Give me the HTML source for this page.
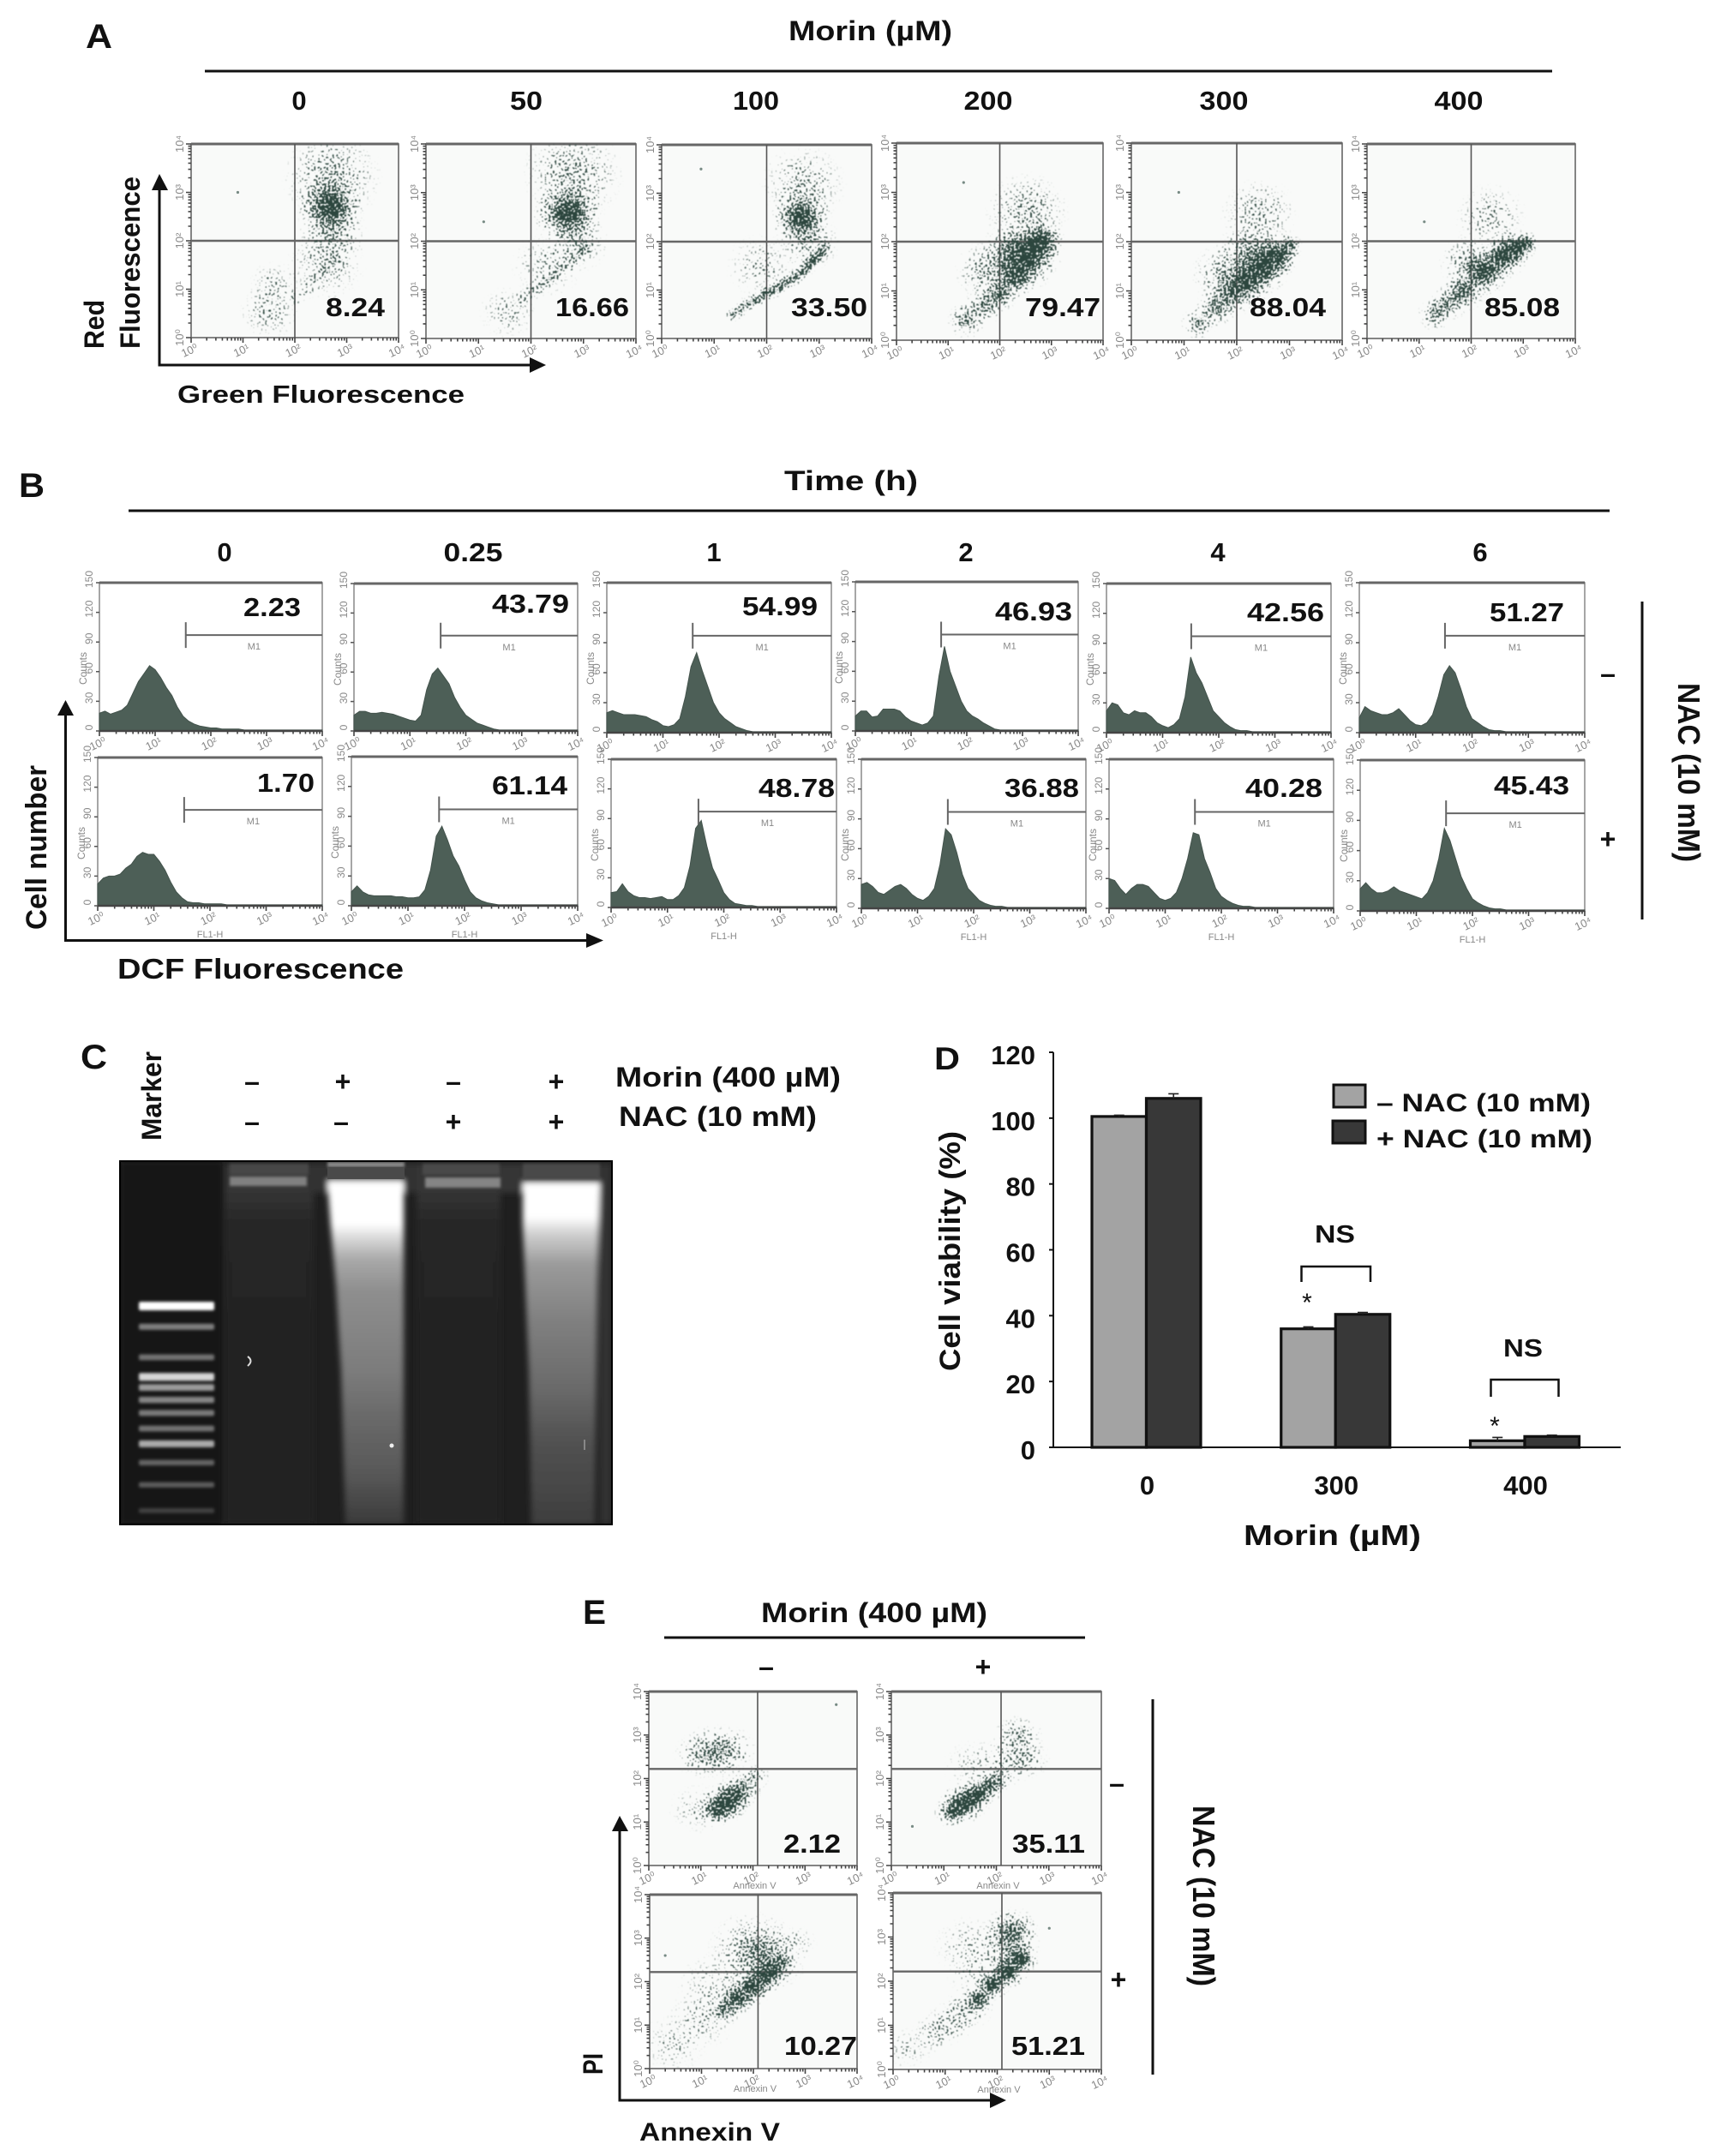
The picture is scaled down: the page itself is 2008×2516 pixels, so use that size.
<!DOCTYPE html>
<html lang="en">
<head>
<meta charset="utf-8">
<title>Morin induced apoptosis figure</title>
<style>
html,body{margin:0;padding:0;background:#fff}
svg{display:block}
text{font-family:"Liberation Sans",sans-serif;fill:#111}
.b{font-weight:bold}
.h{font-weight:bold;font-size:32px}
.v{font-weight:bold;font-size:31px}
.l{font-weight:bold;font-size:40px}
.t{fill:#888;font-size:13px}
</style>
</head>
<body>
<svg id="figure" xmlns="http://www.w3.org/2000/svg" width="2008" height="2516" viewBox="0 0 2008 2516">
<defs>
<filter id="speckle" filterUnits="userSpaceOnUse" x="0" y="0" width="2008" height="2516" color-interpolation-filters="sRGB">
<feTurbulence type="fractalNoise" baseFrequency="0.42" numOctaves="1" seed="4" result="noise"/>
<feColorMatrix in="noise" type="matrix" values="0 0 0 0 0 0 0 0 0 0 0 0 0 0 0 2.6 0 0 0 -0.8" result="noiseAlpha"/>
<feComposite in="SourceAlpha" in2="noiseAlpha" operator="arithmetic" k1="0" k2="6" k3="6" k4="-6" result="mask"/>
<feFlood flood-color="#2c463e" result="ink"/>
<feComposite in="ink" in2="mask" operator="in" result="dots"/>
<feGaussianBlur in="dots" stdDeviation="0.5"/>
</filter>
<radialGradient id="kernel">
<stop offset="0" stop-color="#000" stop-opacity="1"/>
<stop offset="0.25" stop-color="#000" stop-opacity="0.8"/>
<stop offset="0.55" stop-color="#000" stop-opacity="0.38"/>
<stop offset="0.8" stop-color="#000" stop-opacity="0.11"/>
<stop offset="1" stop-color="#000" stop-opacity="0"/>
</radialGradient>
<filter id="gelBlur" x="-10%" y="-10%" width="120%" height="120%"><feGaussianBlur stdDeviation="3.5"/></filter>
<filter id="bandBlur" x="-10%" y="-100%" width="120%" height="300%"><feGaussianBlur stdDeviation="1.5"/></filter>
<clipPath id="gelClip"><rect x="140" y="1355" width="574" height="424"/></clipPath>
<linearGradient id="lane3" gradientUnits="userSpaceOnUse" x1="0" y1="1378" x2="0" y2="1779">
<stop offset="0" stop-color="#fff"/><stop offset="0.125" stop-color="#fff"/><stop offset="0.17" stop-color="#d5d5d5"/><stop offset="0.23" stop-color="#a8a8a8"/><stop offset="0.32" stop-color="#8e8e8e"/><stop offset="0.55" stop-color="#7c7c7c"/><stop offset="0.68" stop-color="#6a6a6a"/><stop offset="0.85" stop-color="#585858"/><stop offset="1" stop-color="#3a3a3a"/>
</linearGradient>
<linearGradient id="lane5" gradientUnits="userSpaceOnUse" x1="0" y1="1380" x2="0" y2="1779">
<stop offset="0" stop-color="#fff"/><stop offset="0.1" stop-color="#fff"/><stop offset="0.15" stop-color="#cfcfcf"/><stop offset="0.24" stop-color="#9a9a9a"/><stop offset="0.4" stop-color="#808080"/><stop offset="0.6" stop-color="#6a6a6a"/><stop offset="0.75" stop-color="#525252"/><stop offset="1" stop-color="#3e3e3e"/>
</linearGradient>
<linearGradient id="gelDarkLane" gradientUnits="userSpaceOnUse" x1="0" y1="1385" x2="0" y2="1779">
<stop offset="0" stop-color="#363636"/><stop offset="0.12" stop-color="#252525"/><stop offset="1" stop-color="#222"/>
</linearGradient>
</defs>

<!-- PANEL A -->
<g>
<text class="l" x="100" y="56" textLength="31" lengthAdjust="spacingAndGlyphs">A</text>
<text class="h" x="920" y="47" textLength="191" lengthAdjust="spacingAndGlyphs">Morin (µM)</text>
<line x1="239" y1="83" x2="1811" y2="83" stroke="#111" stroke-width="3"/>
<text class="v" x="349" y="128" text-anchor="middle">0</text>
<text class="v" x="614" y="128" text-anchor="middle" textLength="38" lengthAdjust="spacingAndGlyphs">50</text>
<text class="v" x="882" y="128" text-anchor="middle" textLength="54" lengthAdjust="spacingAndGlyphs">100</text>
<text class="v" x="1153" y="128" text-anchor="middle" textLength="57" lengthAdjust="spacingAndGlyphs">200</text>
<text class="v" x="1428" y="128" text-anchor="middle" textLength="57" lengthAdjust="spacingAndGlyphs">300</text>
<text class="v" x="1702" y="128" text-anchor="middle" textLength="57" lengthAdjust="spacingAndGlyphs">400</text>
<g id="panelAPlots"></g>
<text class="v" x="380" y="369" textLength="69" lengthAdjust="spacingAndGlyphs">8.24</text>
<text class="v" x="648" y="369" textLength="86" lengthAdjust="spacingAndGlyphs">16.66</text>
<text class="v" x="923" y="369" textLength="89" lengthAdjust="spacingAndGlyphs">33.50</text>
<text class="v" x="1196" y="369" textLength="88" lengthAdjust="spacingAndGlyphs">79.47</text>
<text class="v" x="1458" y="369" textLength="89" lengthAdjust="spacingAndGlyphs">88.04</text>
<text class="v" x="1732" y="369" textLength="88" lengthAdjust="spacingAndGlyphs">85.08</text>
<path d="M186 220V426H620" fill="none" stroke="#111" stroke-width="3"/>
<path d="M186 203L177 222H196Z" fill="#111"/>
<path d="M637 426L618 417V435Z" fill="#111"/>
<text class="h" transform="translate(121,407) rotate(-90)" textLength="57" lengthAdjust="spacingAndGlyphs">Red</text>
<text class="h" transform="translate(163,407) rotate(-90)" textLength="201" lengthAdjust="spacingAndGlyphs">Fluorescence</text>
<text class="h" x="207" y="470" style="font-size:29px" textLength="335" lengthAdjust="spacingAndGlyphs">Green Fluorescence</text>
</g>

<!-- PANEL B -->
<g>
<text class="l" x="22" y="580" textLength="30" lengthAdjust="spacingAndGlyphs">B</text>
<text class="h" x="915" y="572" textLength="156" lengthAdjust="spacingAndGlyphs">Time (h)</text>
<line x1="150" y1="596" x2="1878" y2="596" stroke="#111" stroke-width="3"/>
<text class="v" x="262" y="655" text-anchor="middle">0</text>
<text class="v" x="552" y="655" text-anchor="middle" textLength="69" lengthAdjust="spacingAndGlyphs">0.25</text>
<text class="v" x="833" y="655" text-anchor="middle">1</text>
<text class="v" x="1127" y="655" text-anchor="middle">2</text>
<text class="v" x="1421" y="655" text-anchor="middle">4</text>
<text class="v" x="1727" y="655" text-anchor="middle">6</text>
<g id="panelBPlots"></g>
<text class="v" x="284" y="719" textLength="67" lengthAdjust="spacingAndGlyphs">2.23</text>
<text class="v" x="574" y="715" textLength="90" lengthAdjust="spacingAndGlyphs">43.79</text>
<text class="v" x="866" y="718" textLength="88" lengthAdjust="spacingAndGlyphs">54.99</text>
<text class="v" x="1161" y="724" textLength="90" lengthAdjust="spacingAndGlyphs">46.93</text>
<text class="v" x="1455" y="725" textLength="90" lengthAdjust="spacingAndGlyphs">42.56</text>
<text class="v" x="1738" y="725" textLength="87" lengthAdjust="spacingAndGlyphs">51.27</text>
<text class="v" x="300" y="924" textLength="67" lengthAdjust="spacingAndGlyphs">1.70</text>
<text class="v" x="574" y="927" textLength="88" lengthAdjust="spacingAndGlyphs">61.14</text>
<text class="v" x="885" y="930" textLength="89" lengthAdjust="spacingAndGlyphs">48.78</text>
<text class="v" x="1172" y="930" textLength="87" lengthAdjust="spacingAndGlyphs">36.88</text>
<text class="v" x="1453" y="930" textLength="90" lengthAdjust="spacingAndGlyphs">40.28</text>
<text class="v" x="1743" y="927" textLength="88" lengthAdjust="spacingAndGlyphs">45.43</text>
<path d="M76.500 833V1097.500H684" fill="none" stroke="#111" stroke-width="3"/>
<path d="M76.500 817L67 835H86Z" fill="#111"/>
<path d="M704 1097.500L684 1089V1106Z" fill="#111"/>
<text class="h" transform="translate(54,1085) rotate(-90)" style="font-size:34px" textLength="192" lengthAdjust="spacingAndGlyphs">Cell number</text>
<text class="h" x="137" y="1142" style="font-size:33px" textLength="334" lengthAdjust="spacingAndGlyphs">DCF Fluorescence</text>
<line x1="1916" y1="702" x2="1916" y2="1073" stroke="#111" stroke-width="3"/>
<text class="h" x="1876" y="797" text-anchor="middle">–</text>
<text class="h" x="1876" y="990" text-anchor="middle">+</text>
<text class="h" transform="translate(1958,797) rotate(90)" style="font-size:36px" textLength="209" lengthAdjust="spacingAndGlyphs">NAC (10 mM)</text>
</g>

<!-- PANEL C -->
<g>
<text class="l" x="94" y="1247" textLength="31" lengthAdjust="spacingAndGlyphs">C</text>
<text class="h" transform="translate(188,1331) rotate(-90)" textLength="104" lengthAdjust="spacingAndGlyphs">Marker</text>
<text class="h" x="294" y="1273" text-anchor="middle">–</text>
<text class="h" x="400" y="1273" text-anchor="middle">+</text>
<text class="h" x="529" y="1273" text-anchor="middle">–</text>
<text class="h" x="649" y="1273" text-anchor="middle">+</text>
<text class="h" x="294" y="1320" text-anchor="middle">–</text>
<text class="h" x="398" y="1320" text-anchor="middle">–</text>
<text class="h" x="529" y="1320" text-anchor="middle">+</text>
<text class="h" x="649" y="1320" text-anchor="middle">+</text>
<text class="h" x="718" y="1268" textLength="263" lengthAdjust="spacingAndGlyphs">Morin (400 µM)</text>
<text class="h" x="722" y="1314" textLength="231" lengthAdjust="spacingAndGlyphs">NAC (10 mM)</text>
<g clip-path="url(#gelClip)">
<rect x="140" y="1355" width="574" height="424" fill="#1f1f1f"/>
<rect x="140" y="1355" width="120" height="424" fill="#161616" filter="url(#gelBlur)"/>
<g filter="url(#gelBlur)">
<rect x="262" y="1358" width="104" height="420" fill="url(#gelDarkLane)"/>
<rect x="486" y="1358" width="98" height="420" fill="url(#gelDarkLane)"/>
<rect x="360" y="1358" width="126" height="34" fill="#303030"/>
<rect x="584" y="1358" width="130" height="34" fill="#343434"/>
<rect x="700" y="1358" width="14" height="420" fill="#303030"/>
<polygon points="382,1378 471,1378 471,1779 403,1779 398,1600 392,1500 386,1430" fill="url(#lane3)"/>
<polygon points="610,1380 700,1380 697,1500 694,1779 620,1779 617,1600 613,1500 610,1430" fill="url(#lane5)"/>
</g>
<rect x="268" y="1358" width="92" height="13" fill="#464646" filter="url(#bandBlur)"/>
<rect x="382" y="1356" width="90" height="6" fill="#8a8a8a" filter="url(#bandBlur)"/>
<rect x="382" y="1362" width="90" height="14" fill="#4a4a4a"/>
<rect x="493" y="1358" width="90" height="13" fill="#4a4a4a" filter="url(#bandBlur)"/>
<rect x="610" y="1358" width="90" height="18" fill="#4a4a4a" filter="url(#bandBlur)"/>
<rect x="268" y="1373" width="90" height="11" fill="#808080" filter="url(#bandBlur)"/>
<rect x="496" y="1374" width="88" height="12" fill="#858585" filter="url(#bandBlur)"/>
<g id="markerBands" filter="url(#bandBlur)"></g>
<path d="M289 1583Q296 1588 289 1594" fill="none" stroke="#ddd" stroke-width="2"/>
<circle cx="457" cy="1687" r="2.500" fill="#eee"/>
<line x1="682" y1="1680" x2="682" y2="1692" stroke="#888" stroke-width="2"/>
</g>
<rect x="140" y="1355" width="574" height="424" fill="none" stroke="#000" stroke-width="2"/>
</g>

<!-- PANEL D -->
<g>
<text class="l" x="1090" y="1248" style="font-size:37px" textLength="30" lengthAdjust="spacingAndGlyphs">D</text>
<g id="viabilityChart"></g>
<text class="h" transform="translate(1120,1600) rotate(-90)" style="font-size:34px" textLength="280" lengthAdjust="spacingAndGlyphs">Cell viability (%)</text>
<text class="h" x="1451" y="1803" style="font-size:33px" textLength="207" lengthAdjust="spacingAndGlyphs">Morin (µM)</text>
<rect x="1556" y="1266" width="37" height="26" fill="#a3a3a3" stroke="#111" stroke-width="3"/>
<rect x="1555" y="1308" width="38" height="26" fill="#383838" stroke="#111" stroke-width="3"/>
<text class="h" x="1606" y="1297" style="font-size:30px" textLength="250" lengthAdjust="spacingAndGlyphs">– NAC (10 mM)</text>
<text class="h" x="1606" y="1339" style="font-size:30px" textLength="252" lengthAdjust="spacingAndGlyphs">+ NAC (10 mM)</text>
<text class="v" x="1534" y="1450" style="font-weight:bold;font-size:29px" textLength="47" lengthAdjust="spacingAndGlyphs">NS</text>
<text class="v" x="1754" y="1583" style="font-weight:bold;font-size:29px" textLength="46" lengthAdjust="spacingAndGlyphs">NS</text>
<path d="M1518.500 1496V1478H1599V1496" fill="none" stroke="#111" stroke-width="2.500"/>
<path d="M1739.500 1630V1610H1818.500V1630" fill="none" stroke="#111" stroke-width="2.500"/>
<text x="1525" y="1530" text-anchor="middle" style="font-size:30px">*</text>
<text x="1744" y="1674" text-anchor="middle" style="font-size:30px">*</text>
</g>

<!-- PANEL E -->
<g>
<text class="l" x="680" y="1895" textLength="27" lengthAdjust="spacingAndGlyphs">E</text>
<text class="h" x="888" y="1893" textLength="264" lengthAdjust="spacingAndGlyphs">Morin (400 µM)</text>
<line x1="775" y1="1911" x2="1266" y2="1911" stroke="#111" stroke-width="3"/>
<text class="h" x="894" y="1956" text-anchor="middle">–</text>
<text class="h" x="1147" y="1956" text-anchor="middle">+</text>
<g id="panelEPlots"></g>
<text class="v" x="914" y="2162" textLength="67" lengthAdjust="spacingAndGlyphs">2.12</text>
<text class="v" x="1181" y="2162" textLength="85" lengthAdjust="spacingAndGlyphs">35.11</text>
<text class="v" x="915" y="2398" textLength="85" lengthAdjust="spacingAndGlyphs">10.27</text>
<text class="v" x="1180" y="2398" textLength="86" lengthAdjust="spacingAndGlyphs">51.21</text>
<path d="M723 2134V2451H1155" fill="none" stroke="#111" stroke-width="3"/>
<path d="M723 2119L714 2137H733Z" fill="#111"/>
<path d="M1174 2451L1155 2442V2460Z" fill="#111"/>
<text class="h" transform="translate(703,2421) rotate(-90)" textLength="25" lengthAdjust="spacingAndGlyphs">PI</text>
<text class="h" x="746" y="2498" style="font-size:30px" textLength="164" lengthAdjust="spacingAndGlyphs">Annexin V</text>
<line x1="1345" y1="1983" x2="1345" y2="2421" stroke="#111" stroke-width="3"/>
<text class="h" x="1303" y="2092" text-anchor="middle">–</text>
<text class="h" x="1305" y="2321" text-anchor="middle">+</text>
<text class="h" transform="translate(1392,2107) rotate(90)" style="font-size:36px" textLength="211" lengthAdjust="spacingAndGlyphs">NAC (10 mM)</text>
</g>
</svg>

<script>
/* ---------- Panel A: JC-1 density kernels [log green, log red, sd in decades, density] ---------- */
const jc1Dose0 = [[2.68,2.70,.34,1],[2.72,3.35,.5,.55],[2.72,2.15,.35,.55],[2.6,1.5,.4,.45],[2.0,.84,.12,.42],[2.2,1.0,.12,.42],[2.4,1.2,.12,.42],[2.6,1.4,.12,.42],[2.8,1.6,.12,.42],[1.5,.55,.3,.48],[1.6,1.1,.25,.42]];
const jc1Dose50 = [[2.71,2.57,.35,1],[2.8,3.38,.5,.55],[2.9,1.95,.3,.5],[1.87,.84,.1,.52],[2.05,.98,.1,.52],[2.2,1.1,.1,.52],[2.35,1.22,.1,.52],[2.5,1.34,.1,.52],[2.65,1.48,.1,.52],[2.8,1.62,.1,.52],[2.95,1.76,.1,.52],[3.05,1.88,.1,.52],[2.3,1.5,.35,.4],[1.56,.54,.28,.44]];
const jc1Dose100 = [[2.66,2.5,.3,1],[2.7,3.2,.42,.5],[2.8,2,.32,.52],[1.35,.49,.09,.7],[1.5,.6,.09,.7],[1.65,.72,.09,.75],[1.8,.8,.09,.8],[1.95,.9,.09,.85],[2.1,.98,.09,.85],[2.25,1.07,.09,.85],[2.4,1.17,.09,.85],[2.55,1.27,.09,.85],[2.7,1.38,.09,.85],[2.8,1.5,.09,.85],[2.9,1.62,.09,.85],[3.0,1.73,.09,.8],[3.1,1.85,.09,.75],[1.9,1.5,.35,.38]];
const jc1Dose200 = [[2.53,1.69,.34,1],[2.8,2,.24,1],[2.3,1.3,.24,.95],[2,.93,.18,.85],[1.36,.41,.2,.7],[1.7,.7,.2,.72],[2.53,2.6,.42,.55],[1.75,1.4,.32,.58],[2.2,1.8,.3,.7]];
const jc1Dose300 = [[2.48,1.48,.28,1],[2.75,1.72,.24,1],[3,1.92,.13,.8],[2.2,1.2,.26,.95],[1.9,.93,.24,.8],[1.28,.35,.18,.68],[1.6,.65,.2,.75],[2.43,2.56,.38,.5],[1.75,1.34,.32,.58],[2.2,1.8,.3,.65]];
const jc1Dose400 = [[2.6,1.68,.24,1],[2.85,1.85,.2,1],[3.07,1.97,.12,.9],[2.25,1.35,.24,1],[1.85,.97,.22,.85],[1.32,.5,.18,.7],[1.55,.72,.2,.7],[2.38,2.5,.36,.45],[1.96,1.56,.3,.6]];
const jc1Strays = [[.9,3.0],[1.1,2.4],[.75,3.5],[1.3,3.2]];
const jc1Gate = [2.0,2.0];

/* ---------- Panel B: DCF histogram counts on 0.1-decade bins from 10^0 to 10^4 ---------- */
const dcfNoNac0 = [18,20,17,19,21,26,38,50,58,66,62,54,44,36,24,15,10,7,5,4,3,3,2,2,2,2,1,1,1,1,1,1,1,1,1,1,1,1,1,1,1];
const dcfNoNac025 = [16,20,20,18,18,19,18,17,15,13,11,10,16,42,58,64,56,48,34,24,16,12,8,6,4,2,1,1,1,1,1,1,1,1,1,1,1,1,1,1,1];
const dcfNoNac1 = [20,22,20,18,18,18,17,16,13,11,7,6,8,14,36,66,80,62,46,30,20,14,10,6,4,2,1,1,1,1,1,1,1,1,1,1,1,1,1,1,1];
const dcfNoNac2 = [15,20,20,14,15,22,22,22,20,14,10,8,6,8,15,55,85,60,45,30,20,15,12,8,5,2,1,1,1,1,1,1,1,1,1,1,1,1,1,1,1];
const dcfNoNac4 = [22,30,28,20,18,22,20,20,16,10,7,5,8,14,36,76,60,50,36,22,16,10,6,3,2,2,1,1,1,1,1,1,1,1,1,1,1,1,1,1,1];
const dcfNoNac6 = [15,26,22,20,18,18,20,24,18,12,8,7,10,18,36,58,67,60,44,26,14,10,6,3,2,2,1,1,1,1,1,1,1,1,1,1,1,1,1,1,1];
const dcfNac0 = [22,28,30,30,32,38,42,50,54,52,52,45,36,24,14,8,4,3,3,2,2,2,2,1,1,1,1,1,1,1,1,1,1,1,1,1,1,1,1,1,1];
const dcfNac025 = [14,20,14,11,10,10,10,10,9,9,8,8,9,16,36,70,80,66,50,40,26,14,8,5,3,2,1,1,1,1,1,1,1,1,1,1,1,1,1,1,1];
const dcfNac1 = [15,16,24,16,12,10,10,9,10,11,8,8,12,20,42,80,88,62,40,28,15,8,4,3,2,2,1,1,1,1,1,1,1,1,1,1,1,1,1,1,1];
const dcfNac2 = [24,26,22,16,14,18,22,24,20,14,10,8,12,20,44,80,74,56,34,20,14,8,5,3,2,2,1,1,1,1,1,1,1,1,1,1,1,1,1,1,1];
const dcfNac4 = [30,28,20,14,20,24,24,22,16,10,8,10,16,30,50,76,74,50,36,20,12,8,5,3,2,2,1,1,1,1,1,1,1,1,1,1,1,1,1,1,1];
const dcfNac6 = [22,28,22,18,18,20,24,20,18,16,14,12,18,30,52,82,70,52,34,22,12,8,5,3,2,2,1,1,1,1,1,1,1,1,1,1,1,1,1,1,1];
const dcfGateDecadeNoNac = [1.55,1.55,1.53,1.54,1.51,1.52];
const dcfGateDecadeNac = [1.54,1.55,1.55,1.54,1.53,1.53];
const dcfGateCount = 97;
const countTicks = [0,30,60,90,120,150];
const decadeTicks = [0,1,2,3,4];
const decadeLabels = ['10⁰','10¹','10²','10³','10⁴'];
const minorMultiples = [2,3,4,5,6,7,8,9];

/* ---------- Panel C: marker ladder, migration as fraction of gel length ---------- */
const markerMigration = [.399,.456,.54,.594,.623,.657,.693,.736,.778,.83,.891,.962];
const markerIntensity = [1,.42,.36,.82,.55,.45,.4,.36,.62,.3,.26,.14];

/* ---------- Panel D: viability bars ---------- */
const viabilityCategories = ['0','300','400'];
const viabilityMinusNac = [100.5,36,2];
const viabilityPlusNac = [106,40.4,3.3];
const viabilityErrMinusNac = [.4,.6,1];
const viabilityErrPlusNac = [1.4,.6,.4];
const viabilityTicks = [0,20,40,60,80,100,120];

/* ---------- Panel E: annexin V / PI density kernels ---------- */
const annexinControl = [[1.45,1.42,.24,1],[1.65,1.62,.22,.9],[1.3,1.25,.18,.8],[1.85,1.85,.2,.6],[2.05,2.05,.15,.5],[1.26,2.62,.33,.58],[1.0,2.55,.28,.45],[1.55,2.65,.28,.48],[.95,1.3,.3,.36]];
const annexinMorin = [[1.37,1.43,.24,1],[1.62,1.62,.2,1],[1.15,1.22,.18,.85],[1.87,1.83,.18,.85],[2.05,2.0,.15,.62],[2.42,2.98,.25,.6],[2.54,2.47,.25,.5],[2.2,2.4,.32,.4],[1.6,2.3,.32,.34]];
const annexinNac = [[2.0,1.89,.22,1],[1.7,1.62,.2,.97],[1.45,1.35,.18,.75],[2.3,2.2,.22,1],[2.55,2.45,.15,.7],[2.0,2.75,.45,.62],[2.3,2.55,.4,.5],[1.3,1.9,.4,.38],[1,1.13,.35,.4],[.45,.55,.35,.34],[2.84,2.9,.2,.36]];
const annexinMorinNac = [[2.19,2.22,.21,1],[1.9,1.92,.18,1],[1.65,1.6,.16,.92],[2.45,2.5,.18,1],[2.28,3.14,.28,.78],[2.2,2.75,.33,.6],[1.44,2.8,.35,.36],[1.44,1.38,.25,.58],[1.1,1.05,.25,.48],[.77,.8,.22,.46],[.27,.46,.25,.34],[1.6,2.2,.3,.34]];
const annexinGate = [2.09,2.22];
const annexinStrays = [[3.6,3.7],[.4,.9],[.3,2.6],[3.0,3.2]];

/* ---------- drawing ---------- */
const svgNS = 'http://www.w3.org/2000/svg';
function mk(tag, attrs, parent) {
  const node = document.createElementNS(svgNS, tag);
  for (const k in attrs) node.setAttribute(k, attrs[k]);
  parent.appendChild(node);
  return node;
}
function linScale(d0, d1, r0, r1) {
  return function (v) { return r0 + (v - d0) / (d1 - d0) * (r1 - r0); };
}

function drawLogAxes(g, f, x, y, showY) {
  let d = '';
  decadeTicks.forEach(function (t) {
    d += 'M' + x(t) + ' ' + f.b + 'v6';
    if (showY) d += 'M' + f.l + ' ' + y(t) + 'h-6';
    if (t < 4) minorMultiples.forEach(function (m) {
      const p = t + Math.log10(m);
      d += 'M' + x(p) + ' ' + f.b + 'v3.500';
      if (showY) d += 'M' + f.l + ' ' + y(p) + 'h-3.500';
    });
  });
  const ticks = mk('path', {d: d, fill: 'none', stroke: '#444', 'stroke-width': 1.6}, g);
  
  
  decadeLabels.forEach(function (label, i) {
    const tx = x(decadeTicks[i]);
    const xl = mk('text', {class: 't', 'text-anchor': 'middle', transform: 'translate(' + (tx) + ',' + (f.b + 19) + ') rotate(-25)'}, g);
    xl.textContent = label;
    
    
  });
}

function drawScatter(layer, under, f, gate, kernels, strays, name, xTitle) {
  const x = linScale(0, 4, f.l, f.r);
  const y = linScale(0, 4, f.b, f.t);
  const g = mk('g', {}, under);
  
  
  const frame = mk('rect', {x: f.l, y: f.t, width: f.r - f.l, height: f.b - f.t, fill: '#f9faf9', stroke: '#666', 'stroke-width': 1.6}, g);
  
  
  const top = mk('line', {x1: f.l, y1: f.t, x2: f.r, y2: f.t, stroke: '#666', 'stroke-width': 3}, g);
  
  
  drawLogAxes(g, f, x, y, true);
  decadeTicks.forEach(function (t, i) {
    const yl = mk('text', {class: 't', 'text-anchor': 'middle', transform: 'translate(' + (f.l - 9) + ',' + y(t) + ') rotate(-90)'}, g);
    yl.textContent = decadeLabels[i];
    
    
  });
  if (xTitle) {
    const tt = mk('text', {class: 't', x: (f.l + f.r) / 2 + 2, y: f.b + 27, 'text-anchor': 'middle', style: 'font-size:11px'}, g);
    tt.textContent = xTitle;
    
    
  }
  const clipId = 'clip-' + name;
  const cp = mk('clipPath', {id: clipId}, layer);
  mk('rect', {x: f.l, y: f.t, width: f.r - f.l, height: f.b - f.t}, cp);
  const cloud = mk('g', {'clip-path': 'url(#' + clipId + ')'}, layer);
  
  
  kernels.forEach(function (k) {
    const rx = Math.abs(x(2 * k[2]) - x(0));
    const ry = Math.abs(y(2 * k[2]) - y(0));
    const blob = mk('ellipse', {cx: x(k[0]), cy: y(k[1]), rx: rx, ry: ry, fill: 'url(#kernel)', 'fill-opacity': Math.pow(k[3], 1.5)}, cloud);
    
    
  });
  strays.forEach(function (s) {
    const dot = mk('circle', {cx: x(s[0]), cy: y(s[1]), r: 1.6, fill: '#778a84'}, g);
    
    
  });
  return {x: x, y: y};
}

function drawQuadrants(parent, f, gate) {
  const x = linScale(0, 4, f.l, f.r);
  const y = linScale(0, 4, f.b, f.t);
  const v = mk('line', {x1: x(gate[0]), y1: f.t, x2: x(gate[0]), y2: f.b, stroke: '#555', 'stroke-width': 1.6}, parent);
  
  
  const h = mk('line', {x1: f.l, y1: y(gate[1]), x2: f.r, y2: y(gate[1]), stroke: '#666', 'stroke-width': 2.4}, parent);
  
  
}

function drawHistogram(parent, f, counts, gateDecade, name, showTitle) {
  const x = linScale(0, 4, f.l, f.r);
  const y = linScale(0, 150, f.b, f.t);
  const g = mk('g', {}, parent);
  
  
  const frame = mk('rect', {x: f.l, y: f.t, width: f.r - f.l, height: f.b - f.t, fill: '#fff', stroke: '#888', 'stroke-width': 1.5}, g);
  
  
  const top = mk('line', {x1: f.l, y1: f.t, x2: f.r, y2: f.t, stroke: '#666', 'stroke-width': 3}, g);
  
  
  let d = 'M' + x(0) + ' ' + y(0);
  counts.forEach(function (c, i) {
    d += 'L' + x(i / (counts.length - 1) * 4) + ' ' + y(c);
  });
  d += 'L' + x(4) + ' ' + y(0) + 'Z';
  const area = mk('path', {d: d, fill: '#4d5f57', stroke: '#43534c', 'stroke-width': 1}, g);
  
  
  const base = mk('line', {x1: f.l, y1: f.b, x2: f.r, y2: f.b, stroke: '#444', 'stroke-width': 2.5}, g);
  
  
  drawLogAxes(g, f, x, y, false);
  let yt = '';
  countTicks.forEach(function (c) {
    yt += 'M' + f.l + ' ' + y(c) + 'h-4';
    const l = mk('text', {class: 't', 'text-anchor': 'middle', style: 'font-size:12px', transform: 'translate(' + (f.l - 8) + ',' + (y(c) - 4) + ') rotate(-90)'}, g);
    l.textContent = String(c);
    
    
  });
  const ytPath = mk('path', {d: yt, stroke: '#555', 'stroke-width': 1.5, fill: 'none'}, g);
  
  
  const counts_ = mk('text', {class: 't', 'text-anchor': 'middle', style: 'font-size:12px', transform: 'translate(' + (f.l - 15) + ',' + (f.t + 100) + ') rotate(-90)'}, g);
  counts_.textContent = 'Counts';
  
  
  const gx = x(gateDecade);
  const gy = y(dcfGateCount);
  const gate = mk('path', {d: 'M' + gx + ' ' + (gy - 15) + 'V' + (gy + 15) + 'M' + gx + ' ' + gy + 'H' + f.r, fill: 'none', stroke: '#666', 'stroke-width': 2}, g);
  
  
  const gl = mk('text', {class: 't', x: (gx + f.r) / 2, y: gy + 17, 'text-anchor': 'middle', style: 'font-size:11px'}, g);
  gl.textContent = 'M1';
  
  
  if (showTitle) {
    const tt = mk('text', {class: 't', x: (f.l + f.r) / 2, y: f.b + 37, 'text-anchor': 'middle', style: 'font-size:11px'}, g);
    tt.textContent = 'FL1-H';
    
    
  }
}

/* Panel A */
const aRoot = document.getElementById('panelAPlots');
const aFrames = [
  {l:223,t:168,r:465,b:394},{l:497,t:168,r:742,b:395},{l:772,t:169,r:1017,b:395},
  {l:1046,t:167,r:1287,b:397},{l:1320,t:167,r:1566,b:397},{l:1595,t:168,r:1838,b:395}
];
const aEvents = [jc1Dose0,jc1Dose50,jc1Dose100,jc1Dose200,jc1Dose300,jc1Dose400];
const aUnder = mk('g', {}, aRoot);
const aLayer = mk('g', {filter: 'url(#speckle)'}, aRoot);
aEvents.forEach(function (ev, i) {
  drawScatter(aLayer, aUnder, aFrames[i], jc1Gate, ev, [jc1Strays[i % 4]], 'jc1-plot-' + i, null);
  drawQuadrants(aUnder, aFrames[i], jc1Gate);
});

/* Panel B */
const bRoot = document.getElementById('panelBPlots');
const bFramesTop = [
  {l:116,t:680,r:376,b:853},{l:413,t:681,r:674,b:853},{l:708,t:680,r:970,b:855},
  {l:998,t:679,r:1258,b:853},{l:1291,t:681,r:1553,b:855},{l:1586,t:680,r:1849,b:855}
];
const bFramesBottom = [
  {l:114,t:884,r:376,b:1057},{l:410,t:883,r:674,b:1057},{l:713,t:886,r:976,b:1059},
  {l:1005,t:886,r:1267,b:1060},{l:1294,t:886,r:1556,b:1060},{l:1587,t:887,r:1849,b:1063}
];
[dcfNoNac0,dcfNoNac025,dcfNoNac1,dcfNoNac2,dcfNoNac4,dcfNoNac6].forEach(function (c, i) {
  drawHistogram(bRoot, bFramesTop[i], c, dcfGateDecadeNoNac[i], 'dcf-histogram-no-nac-' + i, false);
});
[dcfNac0,dcfNac025,dcfNac1,dcfNac2,dcfNac4,dcfNac6].forEach(function (c, i) {
  drawHistogram(bRoot, bFramesBottom[i], c, dcfGateDecadeNac[i], 'dcf-histogram-nac-' + i, true);
});

/* Panel C marker ladder */
const ladder = document.getElementById('markerBands');
const gelY = linScale(0, 1, 1355, 1779);
markerMigration.forEach(function (m, i) {
  const v = markerIntensity[i];
  const h = 5 + v * 5;
  const band = mk('rect', {x: 162, y: gelY(m) - h / 2, width: 88, height: h, rx: 2, fill: '#fff', 'fill-opacity': Math.min(1, v * 0.95 + 0.05)}, ladder);
  
  
});

/* Panel D */
const chart = document.getElementById('viabilityChart');
const yV = linScale(0, 120, 1689, 1228);
const xCat = linScale(0, 2, 1337.5, 1779);
const barW = 63.5;
function bar(i, value, err, side, fill, name) {
  const x0 = xCat(i) + (side < 0 ? -barW : 0);
  const r = mk('rect', {x: x0, y: yV(value), width: barW, height: yV(0) - yV(value), fill: fill, stroke: '#111', 'stroke-width': 3.2}, chart);
  
  
  const c = x0 + barW / 2;
  const e = mk('path', {d: 'M' + c + ' ' + yV(value) + 'V' + yV(value + err) + 'M' + (c - 6) + ' ' + yV(value + err) + 'H' + (c + 6), fill: 'none', stroke: '#222', 'stroke-width': 1.6}, chart);
  
  
}
viabilityCategories.forEach(function (cat, i) {
  bar(i, viabilityMinusNac[i], viabilityErrMinusNac[i], -1, '#a3a3a3', 'bar-minus-nac-' + cat);
  bar(i, viabilityPlusNac[i], viabilityErrPlusNac[i], 1, '#383838', 'bar-plus-nac-' + cat);
  const t = mk('text', {class: 'h', x: xCat(i) + 1, y: 1744, 'text-anchor': 'middle', style: 'font-size:31px'}, chart);
  t.textContent = cat;
  
  
});
const axisV = mk('path', {d: 'M1229 ' + yV(120) + 'V' + yV(0) + 'H1891', fill: 'none', stroke: '#111', 'stroke-width': 2}, chart);


viabilityTicks.forEach(function (tv) {
  const tick = mk('line', {x1: 1224, x2: 1229, y1: yV(tv), y2: yV(tv), stroke: '#111', 'stroke-width': 2}, chart);
  
  
  const lab = mk('text', {class: 'h', x: 1208, y: yV(tv) + 14, 'text-anchor': 'end', style: 'font-size:31px'}, chart);
  lab.textContent = String(tv);
  
  
});

/* Panel E */
const eRoot = document.getElementById('panelEPlots');
const eFrames = [{l:757,t:1974,r:1000,b:2177},{l:1040,t:1974,r:1285,b:2177},{l:758,t:2211,r:1000,b:2414},{l:1042,t:2209,r:1285,b:2415}];
const eEvents = [annexinControl,annexinMorin,annexinNac,annexinMorinNac];
const eUnder = mk('g', {}, eRoot);
const eLayer = mk('g', {filter: 'url(#speckle)'}, eRoot);
eEvents.forEach(function (ev, i) {
  drawScatter(eLayer, eUnder, eFrames[i], annexinGate, ev, [annexinStrays[i]], 'annexin-plot-' + i, 'Annexin V');
  drawQuadrants(eUnder, eFrames[i], annexinGate);
});
</script>
</body>
</html>
